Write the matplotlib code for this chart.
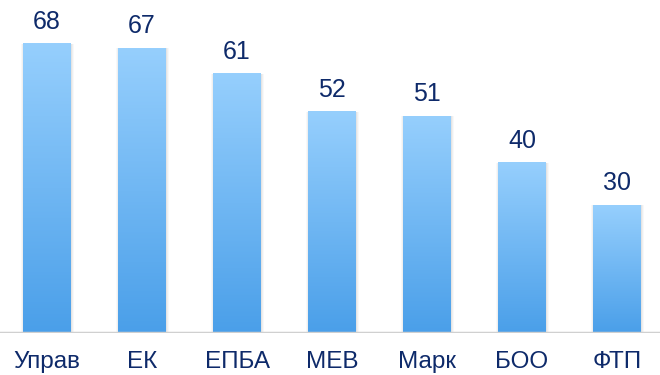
import numpy as np
import matplotlib.pyplot as plt
from matplotlib.colors import LinearSegmentedColormap

categories = ["Управ", "ЕК", "ЕПБА", "МЕВ", "Марк", "БОО", "ФТП"]
values = [68, 67, 61, 52, 51, 40, 30]

plt.rcParams['font.family'] = ['Liberation Sans', 'DejaVu Sans']

fig = plt.figure(figsize=(6.6, 3.75), dpi=100)
ax = fig.add_axes([0, 0.112, 1, 0.888])

x = np.arange(len(categories))
width = 0.505
cmap = LinearSegmentedColormap.from_list("barfill", ["#4a9fe9", "#96cffd"])
grad = np.linspace(0, 1, 256).reshape(-1, 1)

for xi, v in zip(x, values):
    # soft shadow around the bar
    for k, a in [(0.03, 0.05), (0.018, 0.07), (0.008, 0.09)]:
        ax.bar(xi + 0.004, v, width=width + 2 * k, color="#808080", alpha=a,
               zorder=1, linewidth=0)
    ax.imshow(grad, cmap=cmap, origin="lower", aspect="auto",
              extent=[xi - width / 2, xi + width / 2, 0, v], zorder=2)
    ax.text(xi, v + 5.2, str(v), ha="center", va="center", fontsize=18,
            color="#0e2a6a", zorder=3)

ax.set_xlim(-0.495, 6.453)
ax.set_ylim(0, 78.35)
ax.axhline(0, color="#d0d0d0", linewidth=2.5, zorder=4)

ax.set_xticks(x)
ax.set_xticklabels(categories, fontsize=17.5, color="#0e2a6a")
ax.tick_params(axis="x", length=0, pad=13)
ax.set_yticks([])
for s in ax.spines.values():
    s.set_visible(False)

fig.savefig("out.png", dpi=100)
